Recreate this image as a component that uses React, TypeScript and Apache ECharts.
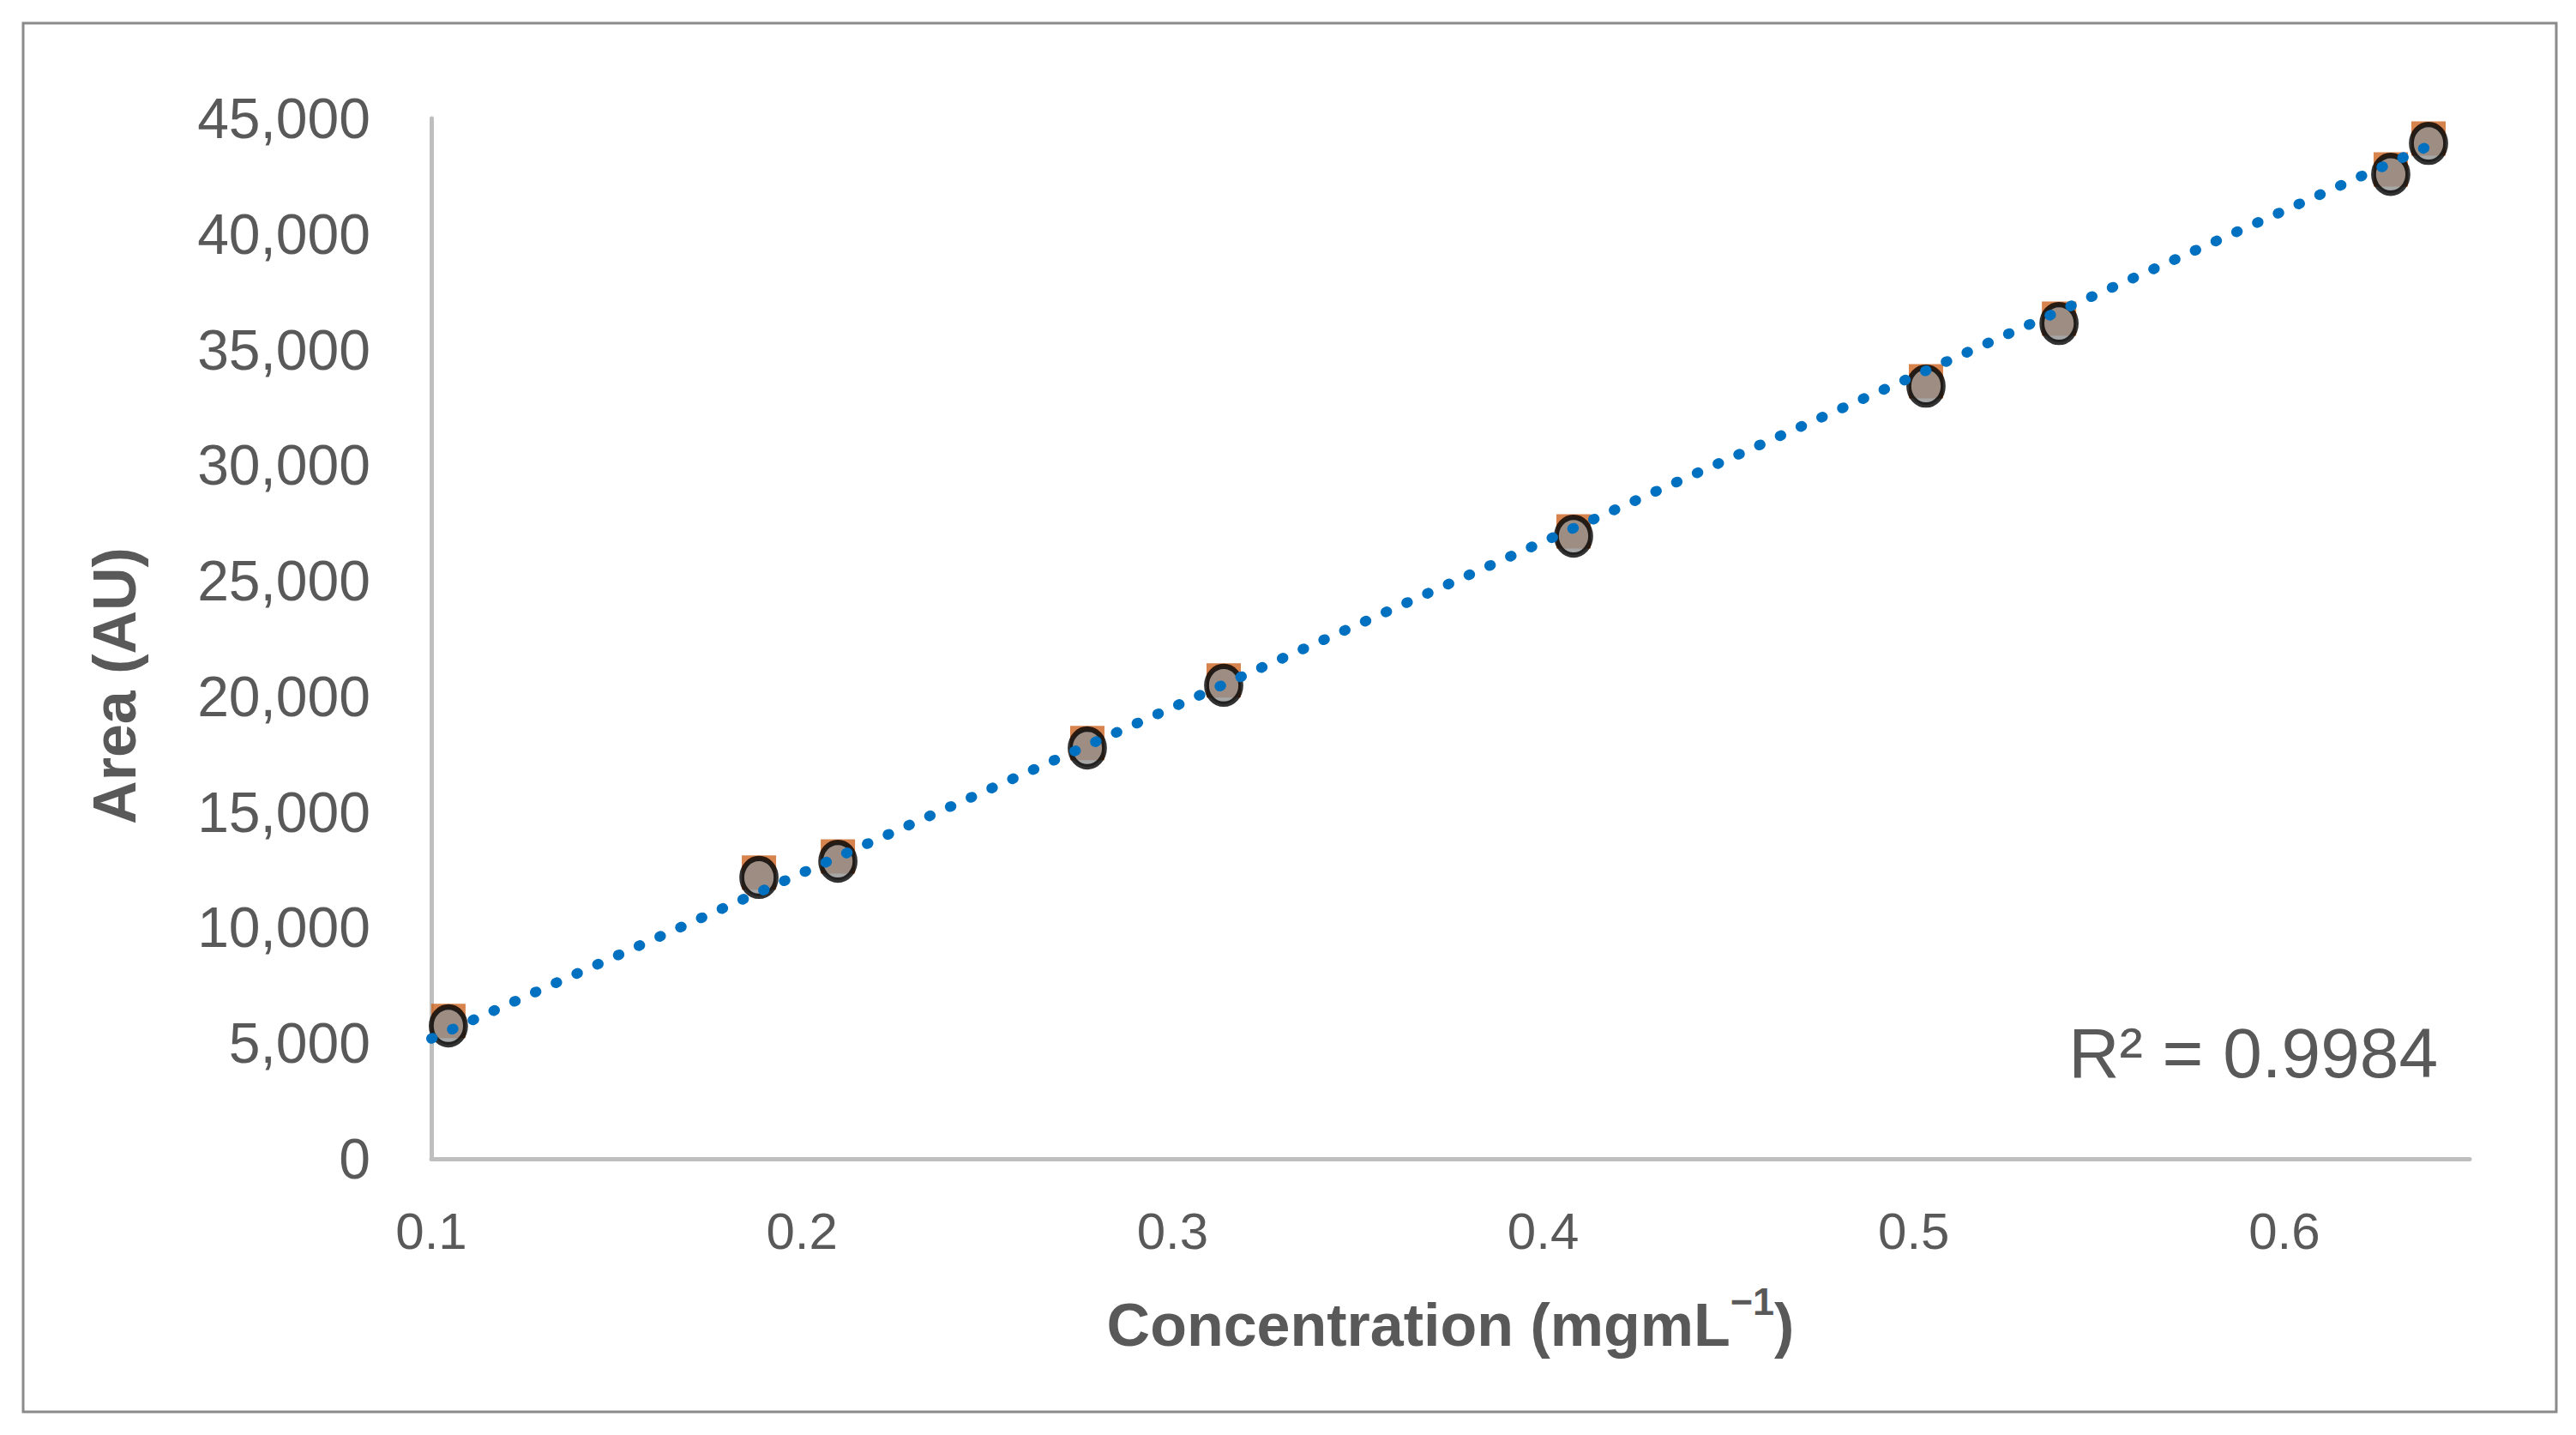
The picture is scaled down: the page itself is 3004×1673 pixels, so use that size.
import React, { useEffect, useRef } from "react";
import * as echarts from "echarts";

// Concentration (mg/mL) of the calibration standards
const concentration = [0.1046, 0.1884, 0.2097, 0.277, 0.3138, 0.4082, 0.5033, 0.5392, 0.6287, 0.6389];
// Peak area, replicate shown as grey circles
const areaGray = [5750, 12170, 12870, 17770, 20480, 26930, 33420, 36130, 42580, 43920];
// Peak area, replicate shown as orange squares (mostly hidden behind the circles)
const areaOrange = [5960, 12380, 13080, 17980, 20690, 27140, 33630, 36340, 42790, 44130];
// Linear trendline end points
const trendX = [0.1, 0.6389];
const trendY = [5200, 43800];
const rSquaredLabel = "R\u00B2 = 0.9984";

const FONT = "'Liberation Sans', Arial, sans-serif";
const TEXT = "#595959";

export default function App() {
  const ref = useRef<HTMLDivElement>(null);
  useEffect(() => {
    if (!ref.current) return;
    const chart = echarts.init(ref.current, undefined, { renderer: "svg" });
    const pts = (ys: number[]) => concentration.map((x, i) => [x, ys[i]]);
    const option: any = {
      animation: false,
      backgroundColor: "#ffffff",
      textStyle: { fontFamily: FONT },
      grid: { left: 503, right: 124, top: 138, bottom: 322, containLabel: false, outerBoundsMode: "none" },
      xAxis: {
        type: "value",
        min: 0.1,
        max: 0.65,
        interval: 0.1,
        name: "{a|Concentration (mgmL}{s|\u22121}{a|)}",
        nameLocation: "middle",
        nameGap: 144,
        nameTextStyle: {
          rich: {
            a: { fontSize: 70, fontWeight: "bold", color: TEXT, fontFamily: FONT, lineHeight: 100 },
            s: { fontSize: 45, fontWeight: "bold", color: TEXT, fontFamily: FONT, lineHeight: 64, verticalAlign: "top" },
          },
        },
        axisLine: { show: true, onZero: false, lineStyle: { color: "#BFBFBF", width: 5 } },
        axisTick: { show: false },
        splitLine: { show: false },
        axisLabel: {
          showMaxLabel: false,
          margin: 54,
          fontSize: 60,
          color: TEXT,
          fontFamily: FONT,
          formatter: (v: number) => String(Math.round(v * 10) / 10),
        },
      },
      yAxis: {
        type: "value",
        min: 0,
        max: 45000,
        interval: 5000,
        name: "Area (AU)",
        nameLocation: "middle",
        nameRotate: 90,
        nameGap: 334,
        nameTextStyle: { fontSize: 70, fontWeight: "bold", color: TEXT, fontFamily: FONT, padding: [0, 110, 0, 0] },
        axisLine: { show: true, onZero: false, lineStyle: { color: "#BFBFBF", width: 5 } },
        axisTick: { show: false },
        splitLine: { show: false },
        axisLabel: {
          margin: 71,
          fontSize: 66,
          color: TEXT,
          fontFamily: FONT,
          formatter: (v: number) => v.toLocaleString("en-US"),
        },
      },
      series: [
        {
          type: "scatter",
          data: pts(areaOrange),
          symbol: "rect",
          symbolSize: 40,
          itemStyle: { color: "#CC6420" },
          z: 2,
        },
        {
          type: "scatter",
          data: pts(areaGray),
          symbol: "path://M50,0A50,50,0,1,1,50,100A50,50,0,1,1,50,0Z",
          symbolSize: [40, 44],
          itemStyle: { color: "#909090", borderColor: "#000000", borderWidth: 6 },
          z: 3,
        },
        {
          type: "line",
          data: trendX.map((x, i) => [x, trendY[i]]),
          showSymbol: false,
          symbol: "none",
          lineStyle: { color: "#0070C0", width: 12, type: [1.5, 25], cap: "round" },
          z: 4,
        },
      ],
      graphic: [
        {
          type: "rect",
          shape: { x: 27, y: 27, width: 2954, height: 1619 },
          style: { fill: "none", stroke: "#8A8A8A", lineWidth: 3 },
          z: 0,
        },
        {
          type: "text",
          x: 2843,
          y: 1227,
          style: {
            text: rSquaredLabel,
            fontSize: 82,
            fontFamily: FONT,
            fill: TEXT,
            align: "right",
            verticalAlign: "middle",
          },
          z: 5,
        },
      ],
    };
    chart.setOption(option);
    return () => chart.dispose();
  }, []);
  return (
    <div
      ref={ref}
      style={{ position: "fixed", left: 0, top: 0, width: 3004, height: 1673, background: "#fff" }}
    />
  );
}
